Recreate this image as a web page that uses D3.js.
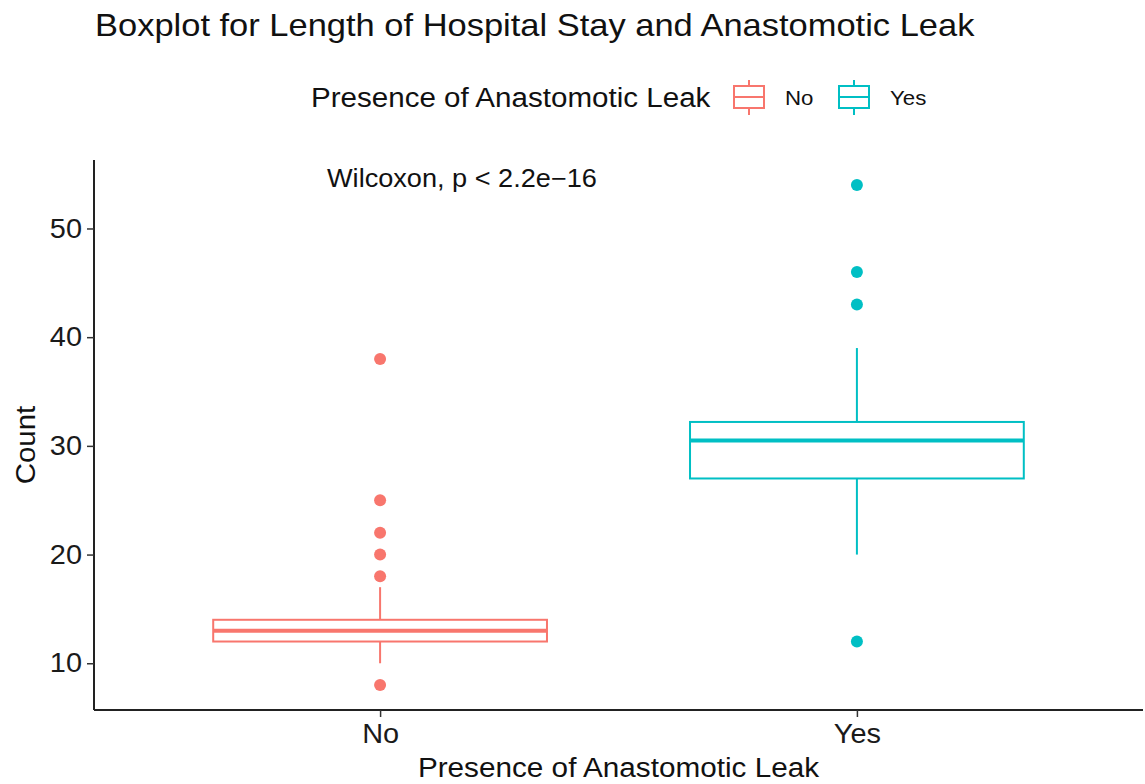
<!DOCTYPE html>
<html>
<head>
<meta charset="utf-8">
<script src="https://cdn.jsdelivr.net/npm/d3@7"></script>
<style>
  body { margin: 0; background: #fff; }
  svg { font-family: "Liberation Sans", Arial, sans-serif; }
</style>
</head>
<body>
<svg width="1145" height="784"></svg>
<script>
// groups and box stats
var groups = ["No", "Yes"];
var colors = ["#F8766D", "#00BFC4"];
var lowerWhisker = [10, 20];
var q1 = [12, 27];
var median = [13, 30.5];
var q3 = [14, 32.2];
var upperWhisker = [17, 39];
var outliersNo = [38, 25, 22, 20, 18, 8];
var outliersYes = [54, 46, 43, 12];
var yTicks = [10, 20, 30, 40, 50];

var svg = d3.select("svg");
var pLeft = 94, pRight = 1143, pTop = 160, pBottom = 710;

// the reference font runs a bit wider than Liberation Sans
function widen(sel, k) {
  sel.each(function() {
    var w = this.getComputedTextLength();
    d3.select(this).attr("textLength", w * k).attr("lengthAdjust", "spacingAndGlyphs");
  });
}

var x = d3.scalePoint().domain(groups).range([pLeft, pRight]).padding(0.6);
var y = d3.scaleLinear().domain([5.7, 56.3]).range([pBottom, pTop]);
var color = d3.scaleOrdinal().domain(groups).range(colors);
var boxW = x.step() * 0.7;

var boxes = groups.map(function(g, i) {
  return {g: g, lo: lowerWhisker[i], q1: q1[i], med: median[i], q3: q3[i], hi: upperWhisker[i],
          out: i == 0 ? outliersNo : outliersYes};
});

// axes
svg.append("g")
  .attr("transform", "translate(" + pLeft + ",0)")
  .call(d3.axisLeft(y).tickValues(yTicks).tickSize(7).tickPadding(5))
  .call(function(g) {
    g.select(".domain").attr("stroke", "#222").attr("stroke-width", 2).attr("d", "M0," + pTop + "V" + pBottom);
    g.selectAll(".tick line").attr("stroke", "#333").attr("stroke-width", 1.5);
    g.selectAll("text").attr("font-size", 27).attr("fill", "#1a1a1a").attr("font-family", "Liberation Sans, Arial")
      .call(widen, 1.07);
  });

svg.append("g")
  .attr("transform", "translate(0," + pBottom + ")")
  .call(d3.axisBottom(x).tickSize(7).tickPadding(7))
  .call(function(g) {
    g.select(".domain").attr("stroke", "#222").attr("stroke-width", 2).attr("d", "M" + pLeft + ",0H" + pRight);
    g.selectAll(".tick line").attr("stroke", "#333").attr("stroke-width", 1.5);
    g.selectAll("text").attr("font-size", 27).attr("fill", "#1a1a1a").attr("font-family", "Liberation Sans, Arial")
      .call(widen, 1.07);
  });

// boxes
var bg = svg.append("g").selectAll("g").data(boxes).enter().append("g")
  .attr("stroke", function(d) { return color(d.g); })
  .attr("fill", "none");

bg.append("line")
  .attr("x1", function(d) { return x(d.g); }).attr("x2", function(d) { return x(d.g); })
  .attr("y1", function(d) { return y(d.q3); }).attr("y2", function(d) { return y(d.hi); })
  .attr("stroke-width", 2);
bg.append("line")
  .attr("x1", function(d) { return x(d.g); }).attr("x2", function(d) { return x(d.g); })
  .attr("y1", function(d) { return y(d.q1); }).attr("y2", function(d) { return y(d.lo); })
  .attr("stroke-width", 2);
bg.append("rect")
  .attr("x", function(d) { return x(d.g) - boxW / 2; })
  .attr("width", boxW)
  .attr("y", function(d) { return y(d.q3); })
  .attr("height", function(d) { return y(d.q1) - y(d.q3); })
  .attr("stroke-width", 2);
bg.append("line")
  .attr("x1", function(d) { return x(d.g) - boxW / 2; }).attr("x2", function(d) { return x(d.g) + boxW / 2; })
  .attr("y1", function(d) { return y(d.med); }).attr("y2", function(d) { return y(d.med); })
  .attr("stroke-width", 4);

bg.selectAll("circle").data(function(d) { return d.out.map(function(v) { return {g: d.g, v: v}; }); })
  .enter().append("circle")
  .attr("cx", function(d) { return x(d.g); })
  .attr("cy", function(d) { return y(d.v); })
  .attr("r", 6)
  .attr("stroke", "none")
  .attr("fill", function(d) { return color(d.g); });

// texts
svg.append("text").attr("x", 95).attr("y", 36)
  .attr("font-size", 30.5).attr("fill", "#111")
  .text("Boxplot for Length of Hospital Stay and Anastomotic Leak")
  .call(widen, 1.13);

svg.append("text").attr("x", 327).attr("y", 187)
  .attr("font-size", 25).attr("fill", "#111")
  .text("Wilcoxon, p < 2.2e\u221216")
  .call(widen, 1.085);

svg.append("text").attr("transform", "translate(35," + ((pTop + pBottom) / 2 + 10) + ") rotate(-90)")
  .attr("text-anchor", "middle").attr("font-size", 27).attr("fill", "#111")
  .text("Count")
  .call(widen, 1.09);

svg.append("text").attr("x", (pLeft + pRight) / 2).attr("y", 777)
  .attr("text-anchor", "middle").attr("font-size", 27).attr("fill", "#111")
  .text("Presence of Anastomotic Leak")
  .call(widen, 1.1);

// legend
var lg = svg.append("g");
lg.append("text").attr("x", 311).attr("y", 107)
  .attr("font-size", 27).attr("fill", "#111")
  .text("Presence of Anastomotic Leak")
  .call(widen, 1.095);

var keyX = d3.scaleOrdinal().domain(groups).range([733, 838]);
var keys = lg.selectAll("g.key").data(groups).enter().append("g").attr("class", "key")
  .attr("transform", function(d) { return "translate(" + keyX(d) + ",0)"; });
keys.append("line").attr("x1", 16).attr("x2", 16).attr("y1", 80).attr("y2", 115)
  .attr("stroke", function(d) { return color(d); }).attr("stroke-width", 2);
keys.append("rect").attr("x", 1).attr("y", 86).attr("width", 30).attr("height", 22)
  .attr("fill", "#fff").attr("stroke", function(d) { return color(d); }).attr("stroke-width", 2);
keys.append("line").attr("x1", 1).attr("x2", 31).attr("y1", 97).attr("y2", 97)
  .attr("stroke", function(d) { return color(d); }).attr("stroke-width", 2);
keys.append("text").attr("x", 52).attr("y", 105)
  .attr("font-size", 21).attr("fill", "#111")
  .text(function(d) { return d; })
  .call(widen, 1.06);
</script>
</body>
</html>
